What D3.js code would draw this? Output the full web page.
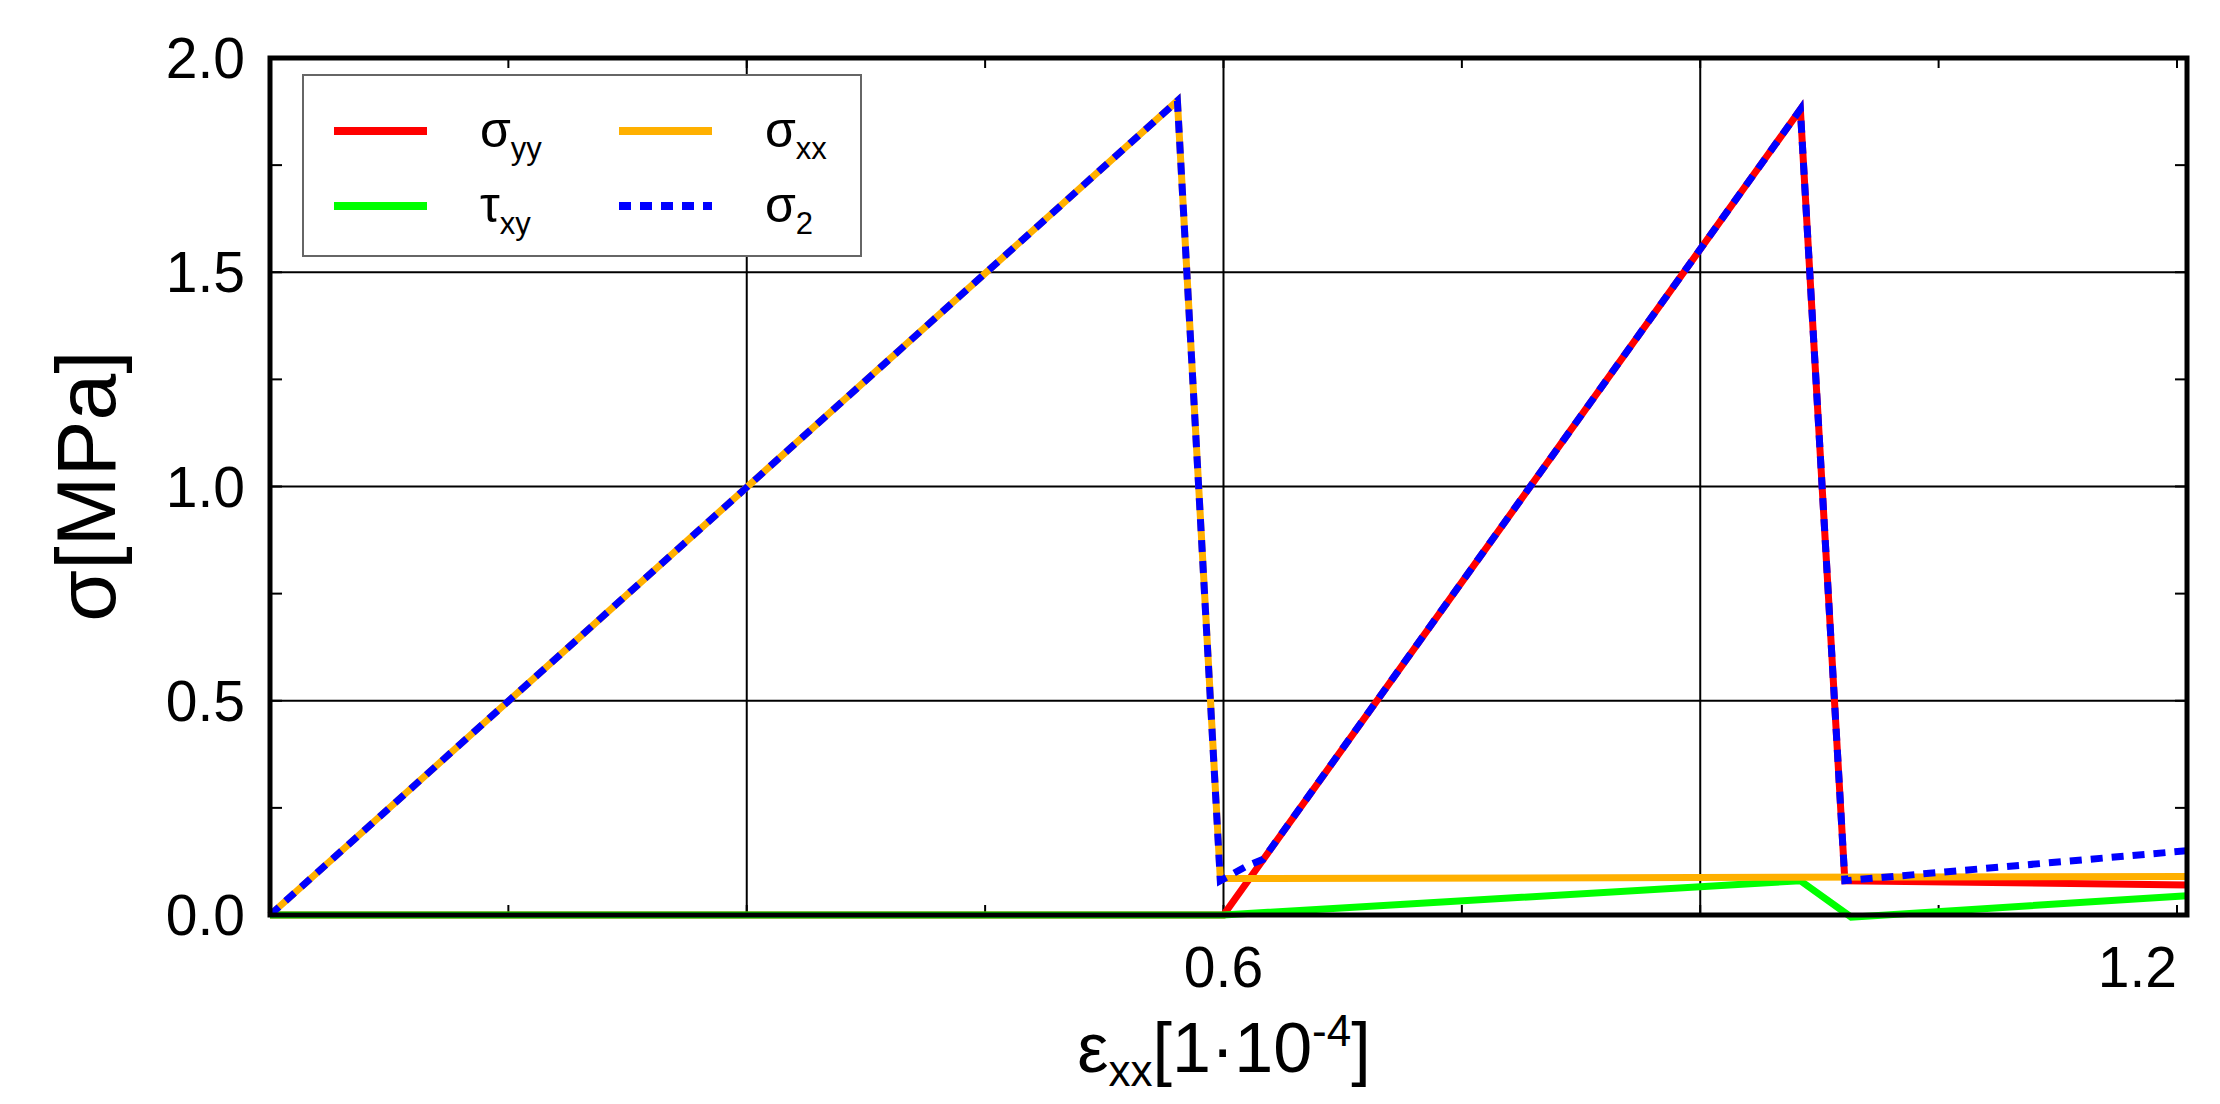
<!DOCTYPE html>
<html>
<head>
<meta charset="utf-8">
<script src="https://cdn.jsdelivr.net/npm/d3@7"></script>
<style>
  body { margin: 0; background: #fff; }
  text { font-family: "Liberation Sans", Arial, sans-serif; }
</style>
</head>
<body>
<div class="canvas"></div>
<script>
// data
const xSigmaXX = [0, 0.571, 0.598, 1.2063];
const ySigmaXX = [0, 1.9, 0.085, 0.09];
const xSigmaYY = [0, 0.6, 0.963, 0.991, 1.2063];
const ySigmaYY = [0, 0, 1.88, 0.08, 0.07];
const xTauXY = [0, 0.6, 0.963, 0.995, 1.2063];
const yTauXY = [0, 0, 0.08, -0.005, 0.045];
const xSigma2 = [0, 0.571, 0.598, 0.615, 0.625, 0.963, 0.991, 1.2063];
const ySigma2 = [0, 1.9, 0.08, 0.115, 0.13, 1.88, 0.08, 0.15];
const yTicks = [0, 0.5, 1.0, 1.5, 2.0];
const xTickLabels = [0.6, 1.2];
const xGrid = [0.3, 0.6, 0.9];

const svg = d3.select('.canvas')
    .append('svg')
    .attr('width', 2220)
    .attr('height', 1104)

const margin = { top: 58, left: 270 };
const graphWidth = 2187 - 270;
const graphHeight = 915 - 58;

const x = d3.scaleLinear().domain([0, 1.2063]).range([0, graphWidth]);
const y = d3.scaleLinear().domain([0, 2.0]).range([graphHeight, 0]);

const graph = svg.append('g')
    .attr('transform', `translate(${margin.left}, ${margin.top})`)

// grid
graph.selectAll('.gx').data(xGrid).enter().append('line')
    .attr('x1', d => x(d)).attr('x2', d => x(d))
    .attr('y1', 0).attr('y2', graphHeight)
    .attr('stroke', '#000').attr('stroke-width', 2)
graph.selectAll('.gy').data([0.5, 1.0, 1.5]).enter().append('line')
    .attr('x1', 0).attr('x2', graphWidth)
    .attr('y1', d => y(d)).attr('y2', d => y(d))
    .attr('stroke', '#000').attr('stroke-width', 2)

// minor ticks inside on every side
const xMinor = d3.range(0.15, 1.2, 0.15);
const yMinor = d3.range(0.25, 2.0, 0.25);
xMinor.forEach(v => {
    graph.append('line').attr('x1', x(v)).attr('x2', x(v)).attr('y1', 0).attr('y2', 10).attr('stroke', '#000').attr('stroke-width', 2);
    graph.append('line').attr('x1', x(v)).attr('x2', x(v)).attr('y1', graphHeight).attr('y2', graphHeight - 10).attr('stroke', '#000').attr('stroke-width', 2);
});
yMinor.forEach(v => {
    graph.append('line').attr('x1', 0).attr('x2', 12).attr('y1', y(v)).attr('y2', y(v)).attr('stroke', '#000').attr('stroke-width', 2);
    graph.append('line').attr('x1', graphWidth).attr('x2', graphWidth - 12).attr('y1', y(v)).attr('y2', y(v)).attr('stroke', '#000').attr('stroke-width', 2);
});

const line = d3.line().x(d => x(d[0])).y(d => y(d[1]));
const series = [
    { xs: xSigmaYY, ys: ySigmaYY, color: '#ff0000', dash: null },
    { xs: xTauXY, ys: yTauXY, color: '#00ff00', dash: null },
    { xs: xSigmaXX, ys: ySigmaXX, color: '#ffb000', dash: null },
    { xs: xSigma2, ys: ySigma2, color: '#0000ff', dash: '12,9' }
];
series.forEach(s => {
    graph.append('path')
        .datum(d3.zip(s.xs, s.ys))
        .attr('d', line)
        .attr('fill', 'none')
        .attr('stroke', s.color)
        .attr('stroke-width', 7)
        .attr('stroke-dasharray', s.dash)
});

// frame
graph.append('rect')
    .attr('width', graphWidth).attr('height', graphHeight)
    .attr('fill', 'none').attr('stroke', '#000').attr('stroke-width', 5)

// tick labels
graph.selectAll('.yl').data(yTicks).enter().append('text')
    .attr('x', -25).attr('y', d => y(d) + 20)
    .attr('text-anchor', 'end').attr('font-size', 57)
    .text(d => d.toFixed(1))
graph.selectAll('.xl').data(xTickLabels).enter().append('text')
    .attr('x', d => d === 1.2 ? graphWidth - 10 : x(d))
    .attr('y', graphHeight + 72)
    .attr('text-anchor', d => d === 1.2 ? 'end' : 'middle').attr('font-size', 57)
    .text(d => d.toFixed(1))

// axis titles
svg.append('text')
    .attr('transform', 'translate(115, 486) rotate(-90)')
    .attr('text-anchor', 'middle').attr('font-size', 84)
    .text('σ[MPa]')
const xt = svg.append('text')
    .attr('x', 1224).attr('y', 1072)
    .attr('text-anchor', 'middle').attr('font-size', 70)
xt.append('tspan').text('ε')
xt.append('tspan').attr('font-size', 44).attr('dy', 14).text('xx')
xt.append('tspan').attr('dy', -14).text('[1·10')
xt.append('tspan').attr('font-size', 44).attr('dy', -26).text('-4')
xt.append('tspan').attr('dy', 26).text(']')

// legend
const legend = svg.append('g').attr('transform', 'translate(303, 75)');
legend.append('rect').attr('width', 558).attr('height', 181)
    .attr('fill', '#fff').attr('stroke', '#666').attr('stroke-width', 2)
const items = [
    { c: '#ff0000', s: 'σ', sub: 'yy', lx: 31, ly: 56, dash: null },
    { c: '#ffb000', s: 'σ', sub: 'xx', lx: 316, ly: 56, dash: null },
    { c: '#00ff00', s: 'τ', sub: 'xy', lx: 31, ly: 131, dash: null },
    { c: '#0000ff', s: 'σ', sub: '2', lx: 316, ly: 131, dash: '12,9' }
];
items.forEach(it => {
    legend.append('line').attr('x1', it.lx).attr('x2', it.lx + 93)
        .attr('y1', it.ly).attr('y2', it.ly)
        .attr('stroke', it.c).attr('stroke-width', 8).attr('stroke-dasharray', it.dash)
    const t = legend.append('text').attr('x', it.lx + 146).attr('y', it.ly + 16).attr('font-size', 50)
    t.append('tspan').text(it.s)
    t.append('tspan').attr('font-size', 31).attr('dy', 12).text(it.sub)
});
</script>
</body>
</html>
